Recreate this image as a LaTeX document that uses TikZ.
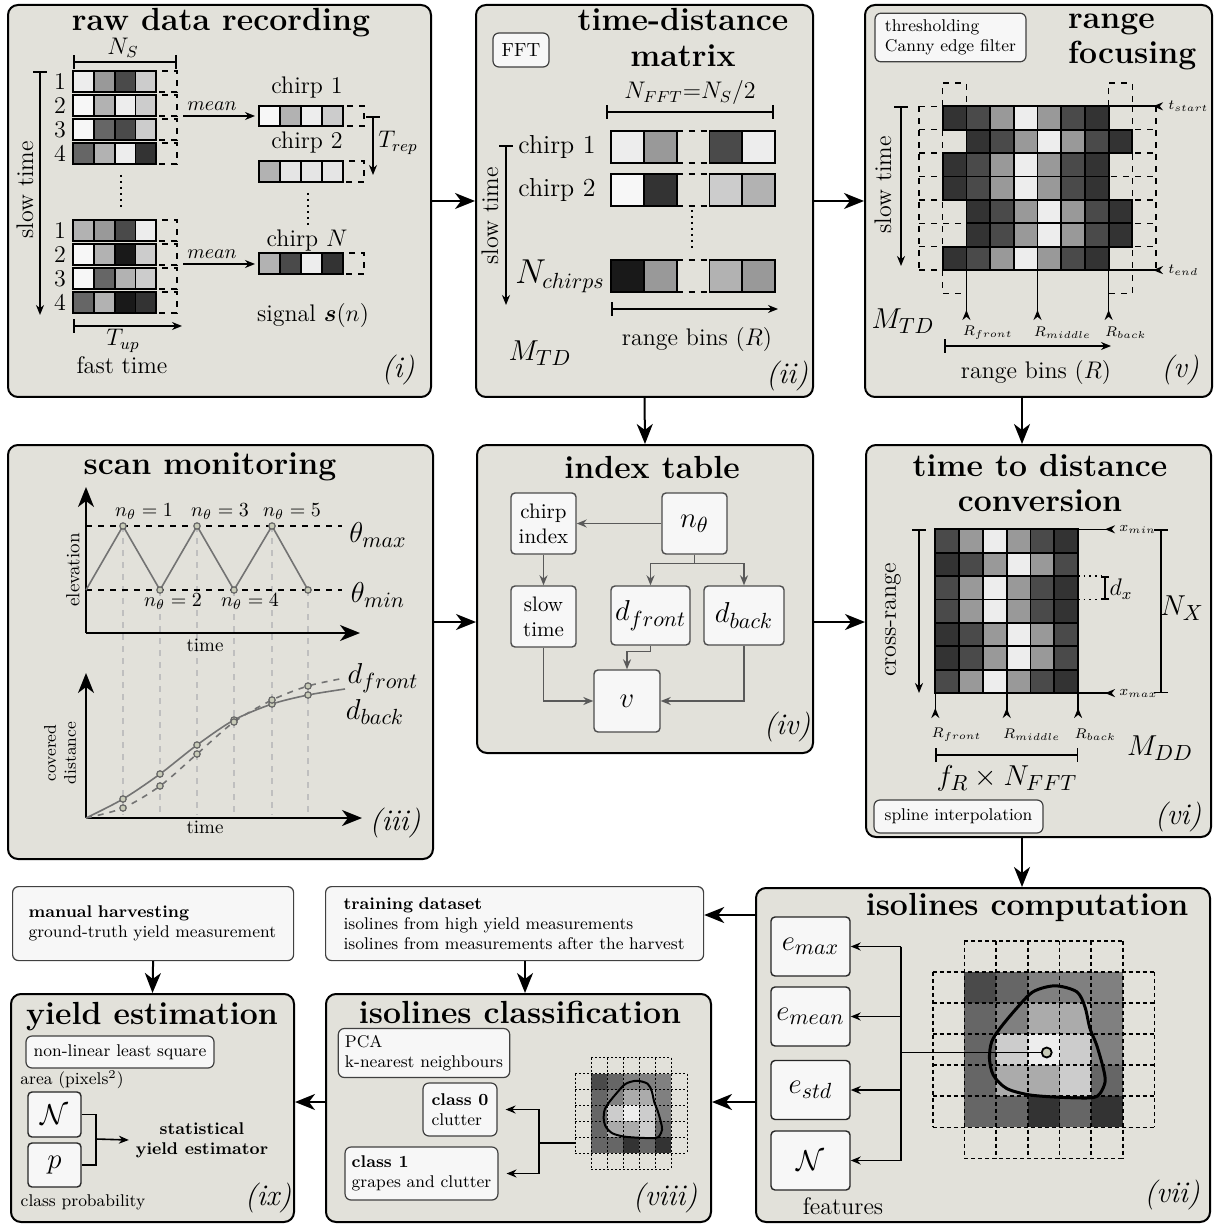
\documentclass[tikz,border=0pt]{standalone}
\usepackage{amsmath}
\usepackage{amssymb}
\usepackage{xcolor}
\usepackage{tikz}
\usetikzlibrary{arrows.meta}

\definecolor{panelbg}{RGB}{226,225,218}
\definecolor{boxbg}{gray}{0.97}
\definecolor{dotfill}{RGB}{200,203,184}
\definecolor{g0}{gray}{0.97}
\definecolor{g1}{gray}{0.93}
\definecolor{g2}{gray}{0.90}
\definecolor{g3}{gray}{0.80}
\definecolor{g4}{gray}{0.70}
\definecolor{g5}{gray}{0.60}
\definecolor{g6}{gray}{0.40}
\definecolor{g7}{gray}{0.29}
\definecolor{g8}{gray}{0.20}
\definecolor{g9}{gray}{0.10}
\definecolor{ga}{gray}{0.50}
\definecolor{gb}{gray}{0.67}

\tikzset{
  panel/.style={draw, line width=1pt, rounded corners=5pt, fill=panelbg, anchor=north west, inner sep=0pt},
  ttl/.style={font=\fontsize{16}{17.5}\selectfont\bfseries, align=center},
  paneltag/.style={font=\fontsize{15}{17}\selectfont\itshape},
  lbl/.style={font=\fontsize{12}{14}\selectfont},
  chl/.style={font=\fontsize{13}{15}\selectfont},
  mth/.style={font=\fontsize{15}{17}\selectfont},
  nlbl/.style={font=\fontsize{10}{12}\selectfont},
  sml/.style={font=\fontsize{9.5}{11}\selectfont},
  tny/.style={font=\fontsize{8.5}{10}\selectfont},
  sublbl/.style={font=\fontsize{7.5}{9}\selectfont, inner sep=1pt},
  cell/.style={draw, line width=0.9pt},
  gdash/.style={line width=0.8pt, dash pattern=on 2pt off 1.5pt},
  gdot/.style={line width=0.45pt, dash pattern=on 1pt off 1pt},
  dotc/.style={draw=black!60, fill=dotfill, line width=0.6pt},
  bigarrow/.style={-{Stealth[length=10pt,width=8pt,inset=3pt]}, line width=1pt},
  arr/.style={-{Stealth[length=5pt,width=4pt]}, line width=0.8pt},
  garr/.style={-{Stealth[length=5pt,width=4pt]}, draw=black!65, line width=0.7pt},
  axisarr/.style={{Bar[width=7pt]}-{Stealth[length=5pt,width=4pt]}, line width=0.8pt},
  dimline/.style={{Bar[width=7pt]}-{Bar[width=7pt]}, line width=0.8pt},
  revtip/.style={-{Stealth[length=5pt,width=4pt,reversed]}, line width=0.8pt},
  note/.style={draw=black!75, fill=boxbg, rounded corners=3pt, line width=0.6pt, align=left, font=\fontsize{8.5}{10}\selectfont},
  ibox/.style={draw=black!70, fill=boxbg, rounded corners=2pt, line width=0.7pt, align=center, inner sep=1pt}
}

% a row of raw samples: x, y, cell width, cell height, colours
\newcommand\cellrow[5]{%
  \draw[cell, dashed] ({#1+4*#3},#2) rectangle ++(#3,#4);
  \foreach \c [count=\k from 0] in {#5}
    \draw[cell, fill=g\c] ({#1+#3*\k},#2) rectangle ++(#3,#4);
}
% a row of the time-distance matrix: y, position/colour pairs
\newcommand\tdrow[2]{%
  \draw[cell, dashed] (676.6,#1) -- ++(32.8,0) (676.6,{#1+32}) -- ++(32.8,0);
  \foreach \k/\c in {#2}
    \draw[cell, fill=g\c] ({611+32.8*\k},#1) rectangle ++(32.8,32);
}
% isoline over its pixel grid, in cell units
\newcommand\isogrid[2]{%
  \foreach \cols [count=\r from 1] in {{7,6,a,a,a},{6,a,b,b,a},{6,3,1,3,a},{6,b,b,3,6},{6,6,8,6,8}}
    \foreach \c [count=\k from 1] in \cols
      \fill[g\c] (\k,\r) rectangle ++(1,1);
  \foreach \r in {0,7} \draw[#2] (1,\r) -- (6,\r);
  \foreach \r in {1,...,6} \draw[#2] (0,\r) -- (7,\r);
  \foreach \k in {0,7} \draw[#2] (\k,1) -- (\k,6);
  \foreach \k in {1,...,6} \draw[#2] (\k,0) -- (\k,7);
  \draw[line width=#1] plot[smooth cycle, tension=0.5] coordinates {(3.86,1.45) (4.54,1.64) (4.80,2.12) (4.96,2.82) (5.17,3.35) (5.38,4.10) (5.44,4.53) (5.28,4.91) (5.02,5.05) (4.12,5.04) (3.07,4.96) (2.33,4.75) (1.91,4.32) (1.79,3.78) (1.86,3.25) (2.12,2.82) (2.65,2.17) (3.17,1.64)};
}

\begin{document}
\begin{tikzpicture}[x=0.5pt,y=-0.5pt]
\useasboundingbox (0,0) rectangle (1214,1224);

% panels
\node[panel, minimum width=211.5pt, minimum height=196pt] (raw) at (7,4) {};
\node[panel, minimum width=168.5pt, minimum height=196pt] (tdm) at (475,4) {};
\node[panel, minimum width=173.5pt, minimum height=196pt] (focus) at (864,4) {};
\node[panel, minimum width=212.5pt, minimum height=207pt] (scan) at (7,444) {};
\node[panel, minimum width=168pt, minimum height=154pt] (index) at (476,444) {};
\node[panel, minimum width=172.5pt, minimum height=196pt] (conv) at (865,444) {};
\node[panel, minimum width=227pt, minimum height=167pt] (isocomp) at (755,887) {};
\node[panel, minimum width=192.5pt, minimum height=114pt] (isoclass) at (325,993) {};
\node[panel, minimum width=141.5pt, minimum height=114pt] (yield) at (10,993) {};
\node[note, anchor=north west, minimum height=37pt, text width=171pt, inner xsep=9pt] (train) at (325,886)
  {\textbf{training dataset}\\isolines from high yield measurements\\isolines from measurements after the harvest};
\node[note, anchor=north west, minimum height=37pt, text width=124.5pt, inner xsep=8pt] (harvest) at (12,886)
  {\textbf{manual harvesting}\\ground-truth yield measurement};

% flow between the panels
\coordinate (rowiv) at (0,622);
\coordinate (rowtrain) at (0,915);
\coordinate (rowcls) at (0,1102);
\coordinate (colfocus) at (1022,0);
\coordinate (coltrain) at (525,0);
\draw[bigarrow] (raw.east) -- (tdm.west);
\draw[bigarrow] (tdm.east) -- (focus.west);
\draw[bigarrow] (tdm.south) -- (index.north);
\draw[bigarrow] (focus.south -| colfocus) -- (conv.north -| colfocus);
\draw[bigarrow] (scan.east |- rowiv) -- (index.west |- rowiv);
\draw[bigarrow] (index.east |- rowiv) -- (conv.west |- rowiv);
\draw[bigarrow] (conv.south -| colfocus) -- (isocomp.north -| colfocus);
\draw[bigarrow] (isocomp.west |- rowtrain) -- (train.east |- rowtrain);
\draw[bigarrow] (train.south -| coltrain) -- (isoclass.north -| coltrain);
\draw[bigarrow] (isocomp.west |- rowcls) -- (isoclass.east |- rowcls);
\draw[bigarrow] (isoclass.west |- rowcls) -- (yield.east |- rowcls);
\draw[bigarrow] (harvest.south) -- (yield.north);

% (i) raw data recording
\node[ttl] at (221,23) {raw data recording};
\node[lbl] at (123,48) {$N_S$};
\draw[dimline] (73,62) -- (177,62);
\cellrow{73}{71}{20.8}{21}{1,5,7,3}
\cellrow{73}{95}{20.8}{21}{0,4,1,3}
\cellrow{73}{119}{20.8}{21}{0,6,7,3}
\cellrow{73}{143}{20.8}{21}{6,4,1,8}
\cellrow{73}{220}{20.8}{21}{4,5,7,1}
\cellrow{73}{244}{20.8}{21}{0,4,9,3}
\cellrow{73}{268}{20.8}{21}{0,6,4,3}
\cellrow{73}{292}{20.8}{21}{6,4,9,8}
\foreach \n in {1,...,4} {
  \node[lbl] at (60,{57.5+24*\n}) {\n};
  \node[lbl] at (60,{206.5+24*\n}) {\n};
}
\draw[dotted, line width=1pt] (121,175) -- (121,208);
\draw[axisarr] (40,71) -- (40,315);
\node[lbl, rotate=90] at (25,190) {slow time};
\draw[axisarr] (73,326) -- (182,326);
\node[lbl] at (123,341) {$T_{up}$};
\node[lbl] at (122,365) {fast time};
\draw[arr] (183,116) -- (255,116);
\node[nlbl] at (212,106) {$mean$};
\draw[arr] (183,264) -- (255,264);
\node[nlbl] at (212,254) {$mean$};
\node[lbl] at (307,88) {chirp 1};
\cellrow{259}{106}{21}{20}{0,4,1,3}
\node[lbl] at (307,143) {chirp 2};
\cellrow{259}{161}{21}{21}{4,2,2,2}
\draw[dotted, line width=1pt] (308,193) -- (308,226);
\node[lbl] at (307,241) {chirp $N$};
\cellrow{259}{253}{21}{21}{4,7,1,8}
\draw[axisarr] (373,116) -- (373,175);
\node[lbl] at (398,143) {$T_{rep}$};
\node[lbl] at (313,316) {signal $\boldsymbol{s}(n)$};
\node[paneltag] at (398,370) {(i)};

% (ii) time-distance matrix
\node[ttl] at (683,37.5) {time-distance\\matrix};
\node[note, minimum width=28pt, minimum height=17pt, font=\fontsize{9.5}{11}\selectfont] (fft) at (521,50) {FFT};
\node[lbl] at (690,93) {$N_{FFT}{=}N_S/2$};
\draw[dimline] (606,112) -- (774,112);
\tdrow{131}{0/1,1/5,3/7,4/1}
\tdrow{174}{0/0,1/8,3/3,4/4}
\tdrow{260}{0/9,1/5,3/4,4/5}
\node[chl] at (557,147) {chirp 1};
\node[chl] at (557,190) {chirp 2};
\node[font=\fontsize{16}{18}\selectfont] at (560,276) {$N_{chirps}$};
\draw[dotted, line width=1pt] (692,210) -- (692,251);
\draw[axisarr] (506,145) -- (506,305);
\node[lbl, rotate=90] at (490,216) {slow time};
\draw[axisarr] (611,309) -- (778,309);
\node[lbl] at (697,340) {range bins ($R$)};
\node[mth] at (540,353) {$M_{TD}$};
\node[paneltag] at (787,376) {(ii)};

% (v) range focusing
\node[note, minimum width=75.5pt, minimum height=23.5pt] (canny) at (950.5,37.5) {thresholding\\Canny edge filter};
\node[ttl, align=left, anchor=west] at (1061,42) {range\\focusing};
\foreach \r in {0,...,7} \draw[dashed, line width=0.7pt] (919,{106.3+23.4*\r}) -- ++(237,0);
\foreach \k in {0,...,10} \draw[dashed, line width=0.7pt] ({919+23.7*\k},106.3) -- ++(0,163.8);
\foreach \k in {1,8} {
  \draw[dashed, line width=0.7pt] ({919+23.7*\k},106.3) -- ++(0,-23.4) -- ++(23.7,0) -- ++(0,23.4);
  \draw[dashed, line width=0.7pt] ({919+23.7*\k},270.1) -- ++(0,23.4) -- ++(23.7,0) -- ++(0,-23.4);
}
\foreach \cols [count=\r from 0] in {
  {1/8,2/7,3/5,4/1,5/5,6/7,7/8},
  {2/8,3/7,4/5,5/1,6/5,7/7,8/8},
  {1/8,2/7,3/5,4/1,5/5,6/7,7/8},
  {1/8,2/7,3/5,4/1,5/5,6/7,7/8},
  {2/8,3/7,4/5,5/1,6/5,7/7,8/8},
  {2/8,3/7,4/5,5/1,6/5,7/7,8/8},
  {1/8,2/7,3/5,4/1,5/5,6/7,7/8}}
  \foreach \k/\c in \cols
    \draw[cell, fill=g\c] ({919+23.7*\k},{106.3+23.4*\r}) rectangle ++(23.7,23.4);
\draw[revtip] (1108.6,106.3) -- (1163,106.3);
\node[sublbl, anchor=west] at (1166,106.3) {$t_{start}$};
\draw[revtip] (1108.6,270.1) -- (1163,270.1);
\node[sublbl, anchor=west] at (1166,270.1) {$t_{end}$};
\foreach \x/\t in {966.4/front,1037.5/middle,1108.6/back} {
  \draw[revtip] (\x,270.1) -- (\x,320);
  \node[sublbl, anchor=west] at ({\x-6},333) {$R_{\t}$};
}
\draw[axisarr] (901,106.3) -- (901,266);
\node[lbl, rotate=90] at (883,185) {slow time};
\node[mth] at (903,321) {$M_{TD}$};
\draw[axisarr] (944,346) -- (1111,346);
\node[lbl] at (1036,373) {range bins ($R$)};
\node[paneltag] at (1180,370) {(v)};

% (iii) scan monitoring
\node[ttl] at (210,467) {scan monitoring};
\foreach \x/\y in {123/526,160/590,197/526,234/590,272/526,308/590}
  \draw[black!25, dashed, line width=0.6pt] (\x,\y) -- (\x,815);
\draw[dashed, line width=0.8pt] (86,526) -- (342,526) (86,590) -- (342,590);
\draw[bigarrow] (86,633) -- (86,487);
\draw[bigarrow] (86,633) -- (360,633);
\draw[black!55, line width=0.8pt] (86,590) -- (123,526) -- (160,590) -- (197,526) -- (234,590) -- (272,526) -- (308,590);
\foreach \x/\y in {123/526,160/590,197/526,234/590,272/526,308/590}
  \draw[dotc] (\x,\y) circle[radius=1.6pt];
\node[nlbl] at (144,512) {$n_\theta=1$};
\node[nlbl] at (220,512) {$n_\theta=3$};
\node[nlbl] at (292,512) {$n_\theta=5$};
\node[nlbl] at (173,602) {$n_\theta=2$};
\node[nlbl] at (250,602) {$n_\theta=4$};
\node[mth] at (378,535) {$\theta_{max}$};
\node[mth] at (378,595) {$\theta_{min}$};
\node[sml, rotate=90] at (73,570) {elevation};
\node[sml] at (205,645) {time};
\draw[bigarrow] (86,818) -- (86,673);
\draw[bigarrow] (86,818) -- (362,818);
\draw[black!55, line width=0.8pt] plot[smooth] coordinates {(86,818) (123,799) (160,774) (197,745) (234,720) (272,704) (308,695) (345,689)};
\draw[black!55, dashed, line width=0.8pt] plot[smooth] coordinates {(86,818) (123,808) (160,786) (197,754) (234,722) (272,700) (308,686) (345,678)};
\foreach \x/\y in {123/799,160/774,197/745,234/720,272/704,308/695,123/808,160/786,197/754,234/722,272/700,308/686}
  \draw[dotc] (\x,\y) circle[radius=1.6pt];
\node[mth] at (383,678) {$d_{front}$};
\node[mth] at (375,712) {$d_{back}$};
\node[tny, rotate=90, align=center] at (60,753) {covered\\distance};
\node[sml] at (205,827) {time};
\node[paneltag] at (395,823) {(iii)};

% (iv) index table
\node[ttl] at (652,467) {index table};
\node[ibox, minimum width=32.5pt, minimum height=30.5pt, font=\fontsize{10.5}{12.5}\selectfont] (chirpidx) at (543.5,523.5) {chirp\\index};
\node[ibox, minimum width=32.5pt, minimum height=30.5pt, mth] (ntheta) at (694.5,523.5) {$n_\theta$};
\node[ibox, minimum width=32.5pt, minimum height=30.5pt, font=\fontsize{10.5}{12.5}\selectfont] (slowt) at (543.5,616.5) {slow\\time};
\node[ibox, minimum width=39.5pt, minimum height=29.5pt, mth] (dfront) at (650.5,615.5) {$d_{front}$};
\node[ibox, minimum width=40pt, minimum height=29.5pt, mth] (dback) at (744,615.5) {$d_{back}$};
\node[ibox, minimum width=33pt, minimum height=31pt, mth] (vnode) at (627,701) {$v$};
\draw[garr] (ntheta) -- (chirpidx);
\draw[garr] (chirpidx) -- (slowt);
\draw[garr] (ntheta.south) -- ++(0,9) -| (dfront.north);
\draw[garr] (ntheta.south) -- ++(0,9) -| (dback.north);
\draw[garr] (dfront.south) -- ++(0,6) -| (vnode.north);
\draw[garr] (slowt.south) |- (vnode.west);
\draw[garr] (dback.south) |- (vnode.east);
\node[paneltag] at (787,727) {(iv)};

% (vi) time to distance conversion
\node[ttl] at (1040,482.5) {time to distance\\conversion};
\foreach \cols [count=\r from 0] in {{7,5,1,5,7,8},{8,7,5,1,5,7},{7,5,1,5,7,8},{7,5,1,5,7,8},{8,7,5,1,5,7},{8,7,5,1,5,7},{7,5,1,5,7,8}}
  \foreach \c [count=\k from 0] in \cols
    \draw[cell, fill=g\c] ({935.3+23.8*\k},{529.3+23.4*\r}) rectangle ++(23.8,23.4);
\draw[axisarr] (919,529.3) -- (919,693);
\node[lbl, rotate=90] at (893,620) {cross-range};
\draw[revtip] (1078.1,529.3) -- (1115,529.3);
\node[sublbl, anchor=west] at (1117,529.3) {$x_{min}$};
\draw[revtip] (1078.1,693.1) -- (1115,693.1);
\node[sublbl, anchor=west] at (1117,693.1) {$x_{max}$};
\draw[dotted, line width=0.8pt] (1078.1,576.1) -- (1103,576.1) (1078.1,599.5) -- (1103,599.5);
\draw[{Bar[width=4pt]}-{Bar[width=4pt]}, line width=0.8pt] (1105,576.1) -- (1105,599.5);
\node[lbl] at (1121,589) {$d_x$};
\draw[dimline] (1161,529.3) -- (1161,693.1);
\node[mth] at (1182,608) {$N_X$};
\foreach \x/\t in {935.3/front,1006.7/middle,1078.1/back} {
  \draw[revtip] (\x,693.1) -- (\x,718);
  \node[sublbl, anchor=west] at ({\x-6},735) {$R_{\t}$};
}
\node[mth] at (1160,748) {$M_{DD}$};
\draw[dimline] (935.3,755) -- (1078.1,755);
\node[mth] at (1007,778) {$f_R\times N_{FFT}$};
\node[note, minimum width=84.5pt, minimum height=16.5pt] (spline) at (958.5,816.5) {spline interpolation};
\node[paneltag] at (1178,817) {(vi)};

% (vii) isolines computation
\node[ttl] at (1027,907) {isolines computation};
\node[ibox, draw=black!85, minimum width=39.5pt, minimum height=29.5pt, mth] (emax) at (810.5,946.5) {$e_{max}$};
\node[ibox, draw=black!85, minimum width=39.5pt, minimum height=29.5pt, mth] (emean) at (810.5,1016.5) {$e_{mean}$};
\node[ibox, draw=black!85, minimum width=39.5pt, minimum height=29.5pt, mth] (estd) at (810.5,1090) {$e_{std}$};
\node[ibox, draw=black!85, minimum width=39.5pt, minimum height=29.5pt, mth] (featn) at (810.5,1160.5) {$\mathcal{N}$};
\node[lbl] at (843,1206) {features};
\begin{scope}[shift={(932.7,940.7)}, x=15.85pt, y=-15.55pt]
  \isogrid{1.5pt}{gdash}
\end{scope}
\node[circle, draw, fill=dotfill, line width=0.9pt, minimum size=5pt, inner sep=0pt] (isodot) at (1046.7,1052.5) {};
\coordinate (bus) at (901,1052.5);
\draw[line width=0.9pt] (bus) -- (isodot);
\draw[line width=0.9pt] (bus |- emax) -- (bus |- featn);
\foreach \f in {emax,emean,estd,featn}
  \draw[arr] (bus |- \f) -- (\f.east);
\node[paneltag] at (1172,1195) {(vii)};

% (viii) isolines classification
\node[ttl] at (520,1012) {isolines classification};
\node[note, minimum width=83pt, minimum height=21pt] (pca) at (424,1053) {PCA\\k-nearest neighbours};
\node[note, minimum width=37pt, minimum height=26.5pt] (cls0) at (460,1109.5) {\textbf{class 0}\\clutter};
\node[note, minimum width=74.5pt, minimum height=26.5pt] (cls1) at (421.5,1173.5) {\textbf{class 1}\\grapes and clutter};
\begin{scope}[shift={(575,1057.7)}, x=8pt, y=-7.95pt]
  \isogrid{1pt}{gdot}
\end{scope}
\coordinate (gridl) at (575,1143);
\coordinate (split) at (539,1143);
\draw[line width=0.9pt] (gridl) -- (split);
\draw[arr, shorten >=4pt] (split) |- (cls0.east);
\draw[arr, shorten >=4pt] (split) |- (cls1.east);
\node[paneltag] at (665,1198) {(viii)};

% (ix) yield estimation
\node[ttl] at (152,1017) {yield estimation};
\node[note, minimum width=94pt, minimum height=16pt] (nlls) at (120,1052) {non-linear least square};
\node[tny] at (72,1080) {area (pixels$^2$)};
\node[ibox, draw=black!85, minimum width=26.5pt, minimum height=22.5pt, mth] (areaN) at (54.5,1114.5) {$\mathcal{N}$};
\node[ibox, draw=black!85, minimum width=26.5pt, minimum height=22pt, mth] (probp) at (54.5,1165) {$p$};
\node[tny, font=\fontsize{8.5}{10}\selectfont\bfseries, align=center] (estim) at (202,1140) {statistical\\yield estimator};
\coordinate (join) at (96,1139);
\draw[line width=0.9pt] (areaN.east) -| (join) |- (probp.east);
\draw[arr] (join) -- (estim.west);
\node[tny] at (83,1202) {class probability};
\node[paneltag] at (268,1198) {(ix)};
\end{tikzpicture}
\end{document}
